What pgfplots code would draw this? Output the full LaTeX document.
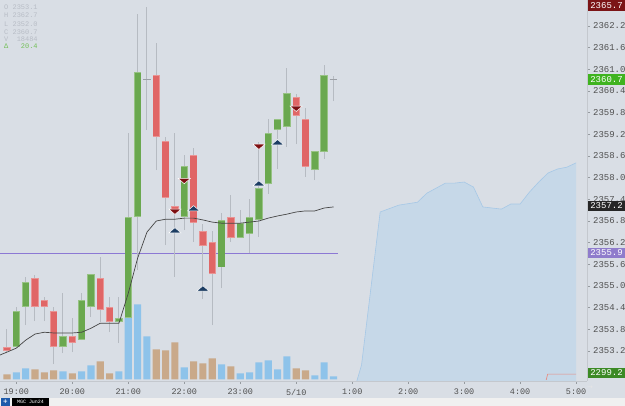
\documentclass[border=0pt]{standalone}
\usepackage{pgfplots}
\pgfplotsset{compat=1.18}
\usepackage{fontspec}
\setmainfont{Liberation Sans}
\newfontfamily\mono{Liberation Mono}
\newfontfamily\dejavu{DejaVu Sans}
\definecolor{bg}{RGB}{217,222,229}
\definecolor{strip}{RGB}{240,240,240}
\definecolor{cgreen}{RGB}{106,168,79}
\definecolor{cred}{RGB}{224,102,102}
\definecolor{wick}{RGB}{182,187,194}
\definecolor{vblue}{RGB}{142,195,234}
\definecolor{vbrown}{RGB}{201,169,138}
\definecolor{areablue}{RGB}{198,216,232}
\definecolor{arealine}{RGB}{166,200,230}
\definecolor{maline}{RGB}{70,70,70}
\definecolor{purp}{RGB}{140,120,212}
\definecolor{navy}{RGB}{28,61,99}
\definecolor{dred}{RGB}{125,15,18}
\definecolor{labgray}{RGB}{80,80,80}
\definecolor{tickgray}{RGB}{150,155,160}
\definecolor{linegray}{RGB}{196,200,206}
\definecolor{leggray}{RGB}{184,189,198}
\definecolor{leggreen}{RGB}{116,192,90}
\definecolor{tagred}{RGB}{123,20,22}
\definecolor{taggreen}{RGB}{63,179,31}
\definecolor{tagdark}{RGB}{38,38,38}
\definecolor{tagpurp}{RGB}{143,124,204}
\definecolor{tagdgreen}{RGB}{60,138,37}
\definecolor{salmon}{RGB}{232,139,128}
\definecolor{plusblue}{RGB}{30,90,170}
\begin{document}
\begin{tikzpicture}
\fill[bg] (0bp,0bp) rectangle (625bp,406bp);
\fill[strip] (0bp,0bp) rectangle (625bp,8bp);
% volume
\begin{axis}[at={(0bp,25bp)}, anchor=south west, width=587bp, height=381bp, scale only axis,
  xmin=-0.75, xmax=62.17, ymin=-51, ymax=11379, hide axis]
\addplot[ybar, bar width=0.76, bar shift=0pt, fill=vblue, draw=none] coordinates {
(1,210) (2,330) (6,240) (8,240) (9,420) (12,240) (13,1860) (14,2250) (15,1290) (19,360)
(23,450) (25,180) (26,210) (27,510) (28,570) (29,300) (30,690) (33,120) (34,510) (35,90)};
\addplot[ybar, bar width=0.76, bar shift=0pt, fill=vbrown, draw=none] coordinates {
(0,150) (3,300) (4,210) (5,270) (7,180) (10,540) (11,180) (16,900) (17,870) (18,1110)
(20,540) (21,480) (22,630) (24,390) (31,330) (32,270)};
\end{axis}
% price
\begin{axis}[at={(0bp,25bp)}, anchor=south west, width=587bp, height=381bp, scale only axis,
  xmin=-0.75, xmax=62.17, ymin=2352.37, ymax=2362.92,
  axis line style={draw=none},
  unbounded coords=jump,
  xtick={1,7,13,19,25,31,37,43,49,55,61},
  xticklabels={19:00,20:00,21:00,22:00,23:00,5/10,1:00,2:00,3:00,4:00,5:00},
  ytick={2353.2,2353.8,2354.4,2355.0,2355.6,2356.2,2356.8,2357.4,2358.0,2358.6,2359.2,2359.8,2360.4,2361.0,2361.6,2362.2},
  yticklabels={2353.2,2353.8,2354.4,2355.0,2355.6,2356.2,2356.8,2357.4,2358.0,2358.6,2359.2,2359.8,2360.4,2361.0,2361.6,2362.2},
  xtick pos=lower, ytick pos=upper, yticklabel pos=upper,
  tick align=outside, major tick length=3bp,
  tick style={draw=tickgray, line width=0.5bp},
  xticklabel style={font=\mono\fontsize{8.5}{9}\selectfont, text=labgray, anchor=center, yshift=-8bp},
  yticklabel style={font=\mono\fontsize{9}{9}\selectfont, text=labgray, anchor=west, inner sep=0pt, xshift=3bp},
]
% right-hand area series
\addplot[fill=areablue, draw=none] coordinates {
(37.5,2352.0) (37.5,2352.37) (38,2352.81) (40,2357.05) (42,2357.24) (44,2357.32) (45,2357.57)
(47,2357.85) (48,2357.85) (49,2357.88) (50,2357.74) (51,2357.19) (52,2357.16) (53,2357.13)
(54,2357.27) (55,2357.27) (56,2357.60) (57,2357.88) (58,2358.13) (59,2358.24) (60,2358.29)
(61,2358.41) (61,2352.0)};
\addplot[draw=arealine, line width=0.6bp] coordinates {
(37.5,2352.37) (38,2352.81) (40,2357.05) (42,2357.24) (44,2357.32) (45,2357.57)
(47,2357.85) (48,2357.85) (49,2357.88) (50,2357.74) (51,2357.19) (52,2357.16) (53,2357.13)
(54,2357.27) (55,2357.27) (56,2357.60) (57,2357.88) (58,2358.13) (59,2358.24) (60,2358.29)
(61,2358.41)};
\addplot[draw=salmon, line width=0.7bp] coordinates {(57.8,2352.40) (57.95,2352.56) (61,2352.56)};
% purple level line
\addplot[draw=purp, line width=0.9bp] coordinates {(-0.75,2355.9) (35.5,2355.9)};
% wicks (low to high)
\addplot[draw=wick, line width=1bp] coordinates {
(0,2353.14) (0,2353.81) (0,nan)
(1,2353.28) (1,2354.42) (1,nan)
(2,2353.92) (2,2355.25) (2,nan)
(3,2354.03) (3,2355.30) (3,nan)
(4,2354.03) (4,2354.69) (4,nan)
(5,2352.84) (5,2354.42) (5,nan)
(6,2353.14) (6,2354.80) (6,nan)
(7,2353.17) (7,2354.11) (7,nan)
(8,2353.50) (8,2354.80) (8,nan)
(9,2354.14) (9,2355.33) (9,nan)
(10,2354.00) (10,2355.80) (10,nan)
(11,2353.72) (11,2354.69) (11,nan)
(12,2353.42) (12,2354.69) (12,nan)
(13,2354.11) (13,2359.24) (13,nan)
(14,2355.44) (14,2362.53) (14,nan)
(15,2359.32) (15,2362.73) (15,nan)
(16,2358.21) (16,2361.73) (16,nan)
(17,2356.13) (17,2359.13) (17,nan)
(18,2355.25) (18,2359.24) (18,nan)
(19,2356.55) (19,2358.63) (19,nan)
(20,2356.22) (20,2358.82) (20,nan)
(21,2354.64) (21,2356.72) (21,nan)
(22,2353.92) (22,2356.52) (22,nan)
(23,2354.94) (23,2357.02) (23,nan)
(24,2356.22) (24,2357.52) (24,nan)
(25,2356.33) (25,2357.10) (25,nan)
(26,2355.91) (26,2357.41) (26,nan)
(27,2356.36) (27,2358.99) (27,nan)
(28,2357.55) (28,2359.62) (28,nan)
(29,2358.24) (29,2359.62) (29,nan)
(30,2358.85) (30,2361.04) (30,nan)
(31,2358.93) (31,2360.32) (31,nan)
(32,2358.02) (32,2359.93) (32,nan)
(33,2357.93) (33,2358.74) (33,nan)
(34,2358.52) (34,2361.12) (34,nan)
(35,2360.12) (35,2360.81)};
% rising candle bodies (open to close): light rim, then body
\addplot[draw=cgreen!70!white, line width=7.4bp] coordinates {
(1,2353.31) (1,2354.31) (1,nan)
(2,2354.42) (2,2355.11) (2,nan)
(6,2353.31) (6,2353.61) (6,nan)
(8,2353.50) (8,2354.61) (8,nan)
(9,2354.42) (9,2355.33) (9,nan)
(12,2354.00) (12,2354.11) (12,nan)
(13,2354.11) (13,2356.91) (13,nan)
(14,2356.91) (14,2360.93) (14,nan)
(19,2356.91) (19,2358.32) (19,nan)
(23,2355.52) (23,2356.83) (23,nan)
(25,2356.33) (25,2356.74) (25,nan)
(26,2356.44) (26,2356.91) (26,nan)
(27,2356.83) (27,2357.71) (27,nan)
(28,2357.82) (28,2359.24) (28,nan)
(29,2359.32) (29,2359.62) (29,nan)
(30,2359.40) (30,2360.34) (30,nan)
(33,2358.21) (33,2358.74) (33,nan)
(34,2358.71) (34,2360.84)};
\addplot[draw=cgreen, line width=6.2bp] coordinates {
(1,2353.33) (1,2354.29) (1,nan)
(2,2354.44) (2,2355.09) (2,nan)
(6,2353.33) (6,2353.59) (6,nan)
(8,2353.52) (8,2354.59) (8,nan)
(9,2354.44) (9,2355.31) (9,nan)
(12,2354.02) (12,2354.09) (12,nan)
(13,2354.13) (13,2356.89) (13,nan)
(14,2356.93) (14,2360.91) (14,nan)
(19,2356.93) (19,2358.30) (19,nan)
(23,2355.54) (23,2356.81) (23,nan)
(25,2356.35) (25,2356.72) (25,nan)
(26,2356.46) (26,2356.89) (26,nan)
(27,2356.85) (27,2357.69) (27,nan)
(28,2357.84) (28,2359.22) (28,nan)
(29,2359.34) (29,2359.60) (29,nan)
(30,2359.42) (30,2360.32) (30,nan)
(33,2358.23) (33,2358.72) (33,nan)
(34,2358.73) (34,2360.82)};
% falling candle bodies (open to close): light rim, then body
\addplot[draw=cred!70!white, line width=7.4bp] coordinates {
(0,2353.31) (0,2353.20) (0,nan)
(3,2355.22) (3,2354.42) (3,nan)
(4,2354.61) (4,2354.42) (4,nan)
(5,2354.31) (5,2353.31) (5,nan)
(7,2353.61) (7,2353.42) (7,nan)
(10,2355.22) (10,2354.33) (10,nan)
(11,2354.42) (11,2354.00) (11,nan)
(16,2360.84) (16,2359.13) (16,nan)
(17,2359.01) (17,2357.44) (17,nan)
(18,2357.21) (18,2357.05) (18,nan)
(20,2358.63) (20,2356.74) (20,nan)
(21,2356.52) (21,2356.11) (21,nan)
(22,2356.22) (22,2355.33) (22,nan)
(24,2356.91) (24,2356.33) (24,nan)
(31,2360.23) (31,2359.71) (31,nan)
(32,2359.62) (32,2358.29)};
\addplot[draw=cred, line width=6.2bp] coordinates {
(0,2353.29) (0,2353.22) (0,nan)
(3,2355.20) (3,2354.44) (3,nan)
(4,2354.59) (4,2354.44) (4,nan)
(5,2354.29) (5,2353.33) (5,nan)
(7,2353.59) (7,2353.44) (7,nan)
(10,2355.20) (10,2354.35) (10,nan)
(11,2354.40) (11,2354.02) (11,nan)
(16,2360.82) (16,2359.15) (16,nan)
(17,2358.99) (17,2357.46) (17,nan)
(18,2357.19) (18,2357.07) (18,nan)
(20,2358.61) (20,2356.76) (20,nan)
(21,2356.50) (21,2356.13) (21,nan)
(22,2356.20) (22,2355.35) (22,nan)
(24,2356.89) (24,2356.35) (24,nan)
(31,2360.21) (31,2359.73) (31,nan)
(32,2359.60) (32,2358.31)};
% doji ticks (open = close)
\addplot[draw=wick!85!black, line width=1bp] coordinates {
(14.58,2360.73) (15.42,2360.73) (15,nan) (34.58,2360.73) (35.42,2360.73)};
% moving average
\addplot[draw=maline, line width=0.7bp] coordinates {
(-0.75,2353.09) (0,2353.17) (1,2353.28) (2,2353.50) (3,2353.67) (4,2353.72) (5,2353.70)
(6,2353.70) (7,2353.70) (8,2353.72) (9,2353.83) (10,2353.97) (11,2353.97) (12,2353.97)
(13,2354.80) (14,2355.77) (15,2356.49) (16,2356.80) (17,2356.85) (18,2356.85) (19,2356.88)
(20,2356.88) (21,2356.83) (22,2356.77) (23,2356.74) (24,2356.74) (25,2356.74) (26,2356.77)
(27,2356.80) (28,2356.88) (29,2356.94) (30,2356.99) (31,2357.05) (32,2357.08) (33,2357.08)
(34,2357.16) (35,2357.19)};
% signals
\addplot[only marks, mark=triangle*, mark size=7bp,
  mark options={fill=navy, draw=white, line width=0.5bp, xscale=1.0, yscale=0.5}] coordinates {
(18,2356.52) (20,2357.13) (21,2354.91) (27,2357.82) (29,2358.96)};
\addplot[only marks, mark=triangle*, mark size=7bp,
  mark options={fill=dred, draw=white, line width=0.5bp, xscale=1.0, yscale=0.5, rotate=180}] coordinates {
(18,2357.08) (19,2357.93) (27,2358.88) (31,2359.93)};
\end{axis}
% frame lines
\draw[linegray, line width=0.5bp] (0bp,25bp) -- (587bp,25bp);
\draw[linegray, line width=0.5bp] (587bp,25bp) -- (587bp,406bp);
% price tags
\begin{scope}[every node/.style={font=\mono\fontsize{9}{9}\selectfont, text=white, inner sep=0pt}]
\fill[tagred] (588bp,395bp) rectangle (625bp,406bp);
\node at (606.5bp,400.5bp) {2365.7};
\fill[taggreen] (588bp,321bp) rectangle (625bp,332bp);
\node at (606.5bp,326.5bp) {2360.7};
\fill[tagdark] (588bp,195bp) rectangle (625bp,205bp);
\node at (606.5bp,200bp) {2357.2};
\fill[tagpurp] (588bp,148bp) rectangle (625bp,158bp);
\node at (606.5bp,153bp) {2355.9};
\fill[tagdgreen] (588bp,28bp) rectangle (625bp,38bp);
\node at (606.5bp,33bp) {2299.2};
\end{scope}
% OHLC readout
\begin{scope}[every node/.style={font=\mono\fontsize{7}{7}\selectfont, text=leggray, inner sep=0pt, anchor=west}]
\node at (4bp,399bp) {O~2353.1};
\node at (4bp,390.5bp) {H~2362.7};
\node at (4bp,382bp) {L~2352.0};
\node at (4bp,374bp) {C~2360.7};
\node at (4bp,367bp) {V~~18484};
\node[text=leggreen] at (4bp,360bp) {Δ~~~20.4};
\end{scope}
\node[font=\dejavu\fontsize{7}{7}\selectfont, text=white!80!gray, inner sep=0pt] at (590bp,18bp) {→};
% instrument tab
\fill[plusblue] (1bp,0bp) rectangle (10bp,8bp);
\node[font=\dejavu\bfseries\fontsize{6}{6}\selectfont, text=white, inner sep=0pt] at (5.5bp,4bp) {+};
\fill[black] (12bp,0bp) rectangle (49bp,8bp);
\node[font=\mono\fontsize{5}{5}\selectfont, text=white, inner sep=0pt] at (30.5bp,4bp) {MGC Jun24};
\pgfresetboundingbox
\useasboundingbox (0bp,0bp) rectangle (625bp,406bp);
\end{tikzpicture}
\end{document}
